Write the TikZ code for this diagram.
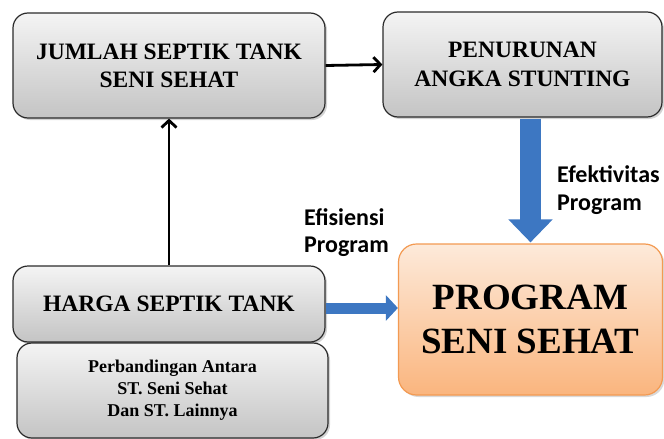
\documentclass[tikz,border=0pt]{standalone}
\usepackage{fontspec}
\setmainfont{Liberation Serif}
\newfontfamily\lblfont{Carlito}
\usetikzlibrary{arrows.meta,shadows,calc}
\definecolor{grayT}{HTML}{F4F4F4}
\definecolor{grayB}{HTML}{C4C4C4}
\definecolor{orT}{HTML}{FDEADA}
\definecolor{orB}{HTML}{FAB57E}
\definecolor{orD}{HTML}{F39A52}
\definecolor{boxD}{HTML}{2B2B2B}
\definecolor{blueA}{HTML}{3D77C2}
\tikzset{
  graybox/.style={draw=boxD, line width=1.2pt, rounded corners=15pt,
    top color=grayT, bottom color=grayB, inner sep=0pt, align=center,
    drop shadow={shadow xshift=2pt, shadow yshift=-2pt, opacity=0.35},
    font=\bfseries\fontsize{23.5}{28}\selectfont},
  orbox/.style={draw=orD, line width=1.2pt, rounded corners=18pt,
    top color=orT, bottom color=orB, inner sep=0pt, align=center,
    drop shadow={shadow xshift=2pt, shadow yshift=-2pt, opacity=0.3},
    font=\bfseries\fontsize{37}{44}\selectfont},
  blackarrow/.style={line width=2.8pt, -{Straight Barb[length=7pt,width=15pt,line width=2.8pt]}},
  lbl/.style={font=\lblfont\bfseries\fontsize{24}{27.5}\selectfont, align=left, inner sep=0pt, anchor=base west}
}
\begin{document}
\begin{tikzpicture}[x=1pt,y=-1pt]
\useasboundingbox (0,0) rectangle (664,439);
\node[graybox, minimum width=312pt, minimum height=105pt] (j) at (169,65.5) {JUMLAH SEPTIK TANK\\SENI SEHAT};
\node[graybox, minimum width=279pt, minimum height=105pt, font=\bfseries\fontsize{23.5}{29}\selectfont] (p) at (522.5,64.5) {PENURUNAN\\ANGKA STUNTING};
\node[orbox, minimum width=264pt, minimum height=151pt] (prog) at (530.5,319.5) {PROGRAM\\SENI SEHAT};
\node[graybox, minimum width=312pt, minimum height=76pt] (h) at (169,304) {HARGA SEPTIK TANK};
\node[graybox, minimum width=311pt, minimum height=95pt, font=\bfseries\fontsize{18}{22}\selectfont] (pb) at (172.5,390.5) {Perbandingan Antara\\ST. Seni Sehat\\Dan ST. Lainnya};
\draw[blackarrow] (j.east) -- (p.west);
\draw[blackarrow] (h.north) -- (j.south);
\draw[blueA, line width=21pt, -{Triangle[length=23pt,width=43pt]}] ($(prog.north |- p.south)+(0,1)$) -- ($(prog.north)+(0,-1)$);
\draw[blueA, line width=11pt, -{Triangle[length=12pt,width=25pt]}] ([yshift=-4pt]h.east) -- ([yshift=-4pt]h.east -| prog.west);
\node[lbl] (eff) at (557,210) {Efektivitas\\Program};
\node[lbl] (efi) at (304,252.5) {Efisiensi\\Program};
\end{tikzpicture}
\end{document}
